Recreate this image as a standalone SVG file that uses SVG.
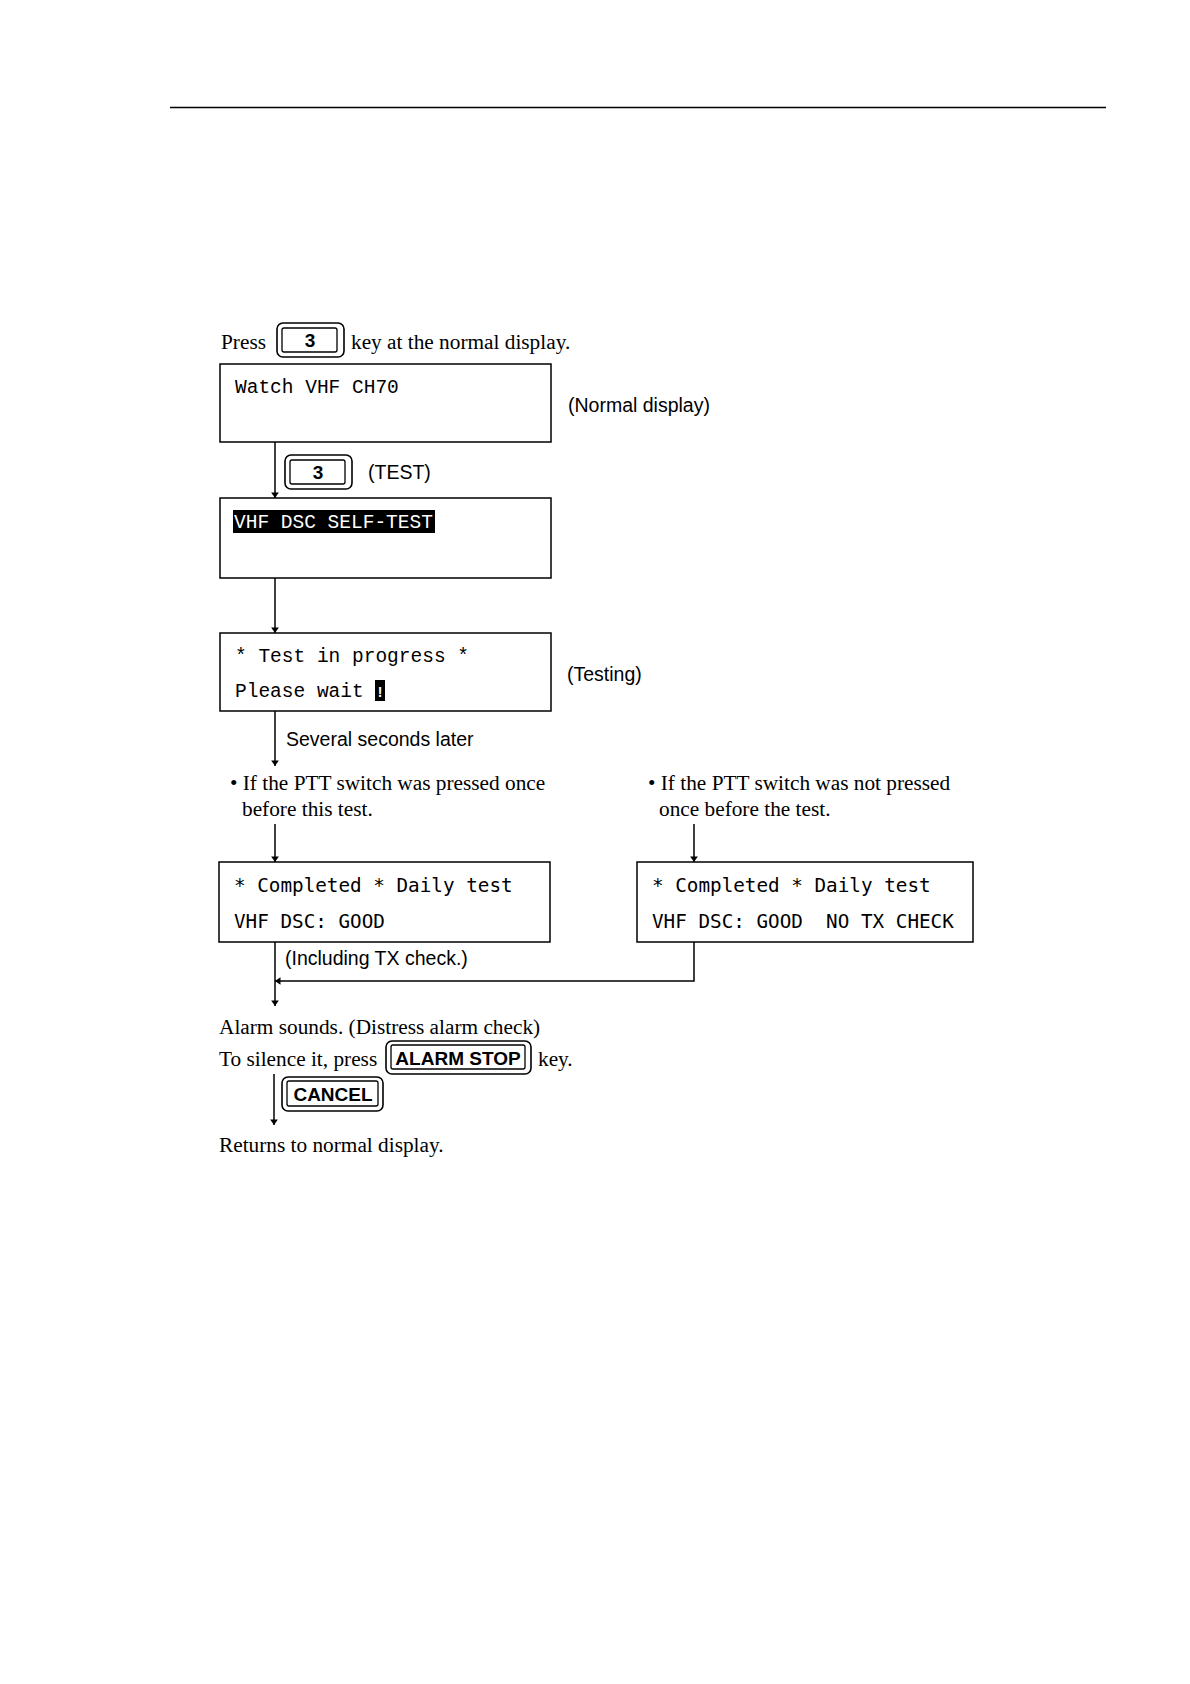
<svg xmlns="http://www.w3.org/2000/svg" width="1190" height="1684" viewBox="0 0 1190 1684">
<defs>
<marker id="ah" viewBox="0 0 10 20" refX="10" refY="10" markerWidth="6" markerHeight="11" orient="auto" markerUnits="userSpaceOnUse">
<path d="M0,3 L10,10 L0,17 Z" fill="#000"/>
</marker>
</defs>
<style>
.box{fill:#fff;stroke:#000;stroke-width:1.5}
.ln{fill:none;stroke:#000;stroke-width:1.5}
.mono{font-family:"Liberation Mono","Courier New",monospace;font-size:19.5px;fill:#000}
.mono2{font-family:"DejaVu Sans Mono","Liberation Mono",monospace;font-size:19.3px;fill:#000}
.serif{font-family:"Liberation Serif","Times New Roman",serif;font-size:21.3px;fill:#000}
.sans{font-family:"Liberation Sans",Arial,sans-serif;font-size:19.5px;fill:#000}
.keyo{fill:#fff;stroke:#000;stroke-width:1.6}
.keyi{fill:none;stroke:#000;stroke-width:1.3}
.keyt{font-family:"Liberation Sans",Arial,sans-serif;font-weight:bold;font-size:19px;fill:#000}
</style>
<rect width="1190" height="1684" fill="#fff"/>
<line x1="170" y1="107.5" x2="1106" y2="107.5" stroke="#000" stroke-width="1.5"/>

<g id="intro">
<text class="serif" x="221" y="349">Press</text>
<rect class="keyo" x="277" y="323" width="67" height="34" rx="6"/>
<rect class="keyi" x="282" y="328" width="55" height="24" rx="2"/>
<text class="keyt" x="310" y="347" text-anchor="middle">3</text>
<text class="serif" x="351" y="349">key at the normal display.</text>
</g>

<g id="node-normal">
<rect class="box" x="220" y="364" width="331" height="78"/>
<text class="mono" x="235" y="393">Watch VHF CH70</text>
<text class="sans" x="568" y="412">(Normal display)</text>
</g>

<g id="key-test">
<rect class="keyo" x="285" y="455" width="67" height="34" rx="6"/>
<rect class="keyi" x="290" y="460" width="55" height="24" rx="2"/>
<text class="keyt" x="318" y="479" text-anchor="middle">3</text>
<text class="sans" x="368" y="479">(TEST)</text>
</g>

<g id="node-selftest">
<rect class="box" x="220" y="498" width="331" height="80"/>
<rect x="233" y="510" width="202" height="23" fill="#000"/>
<text class="mono" x="234" y="528" style="fill:#fff">VHF DSC SELF-TEST</text>
</g>

<g id="node-testing">
<rect class="box" x="220" y="633" width="331" height="78"/>
<text class="mono" x="235" y="662">* Test in progress *</text>
<text class="mono" x="235" y="697">Please wait</text>
<rect x="375" y="680" width="10" height="21" fill="#000"/>
<text x="380" y="697" text-anchor="middle" style="font-family:'Liberation Sans',Arial,sans-serif;font-size:14px;font-weight:bold;fill:#fff">!</text>
<text class="sans" x="567" y="681">(Testing)</text>
</g>

<g id="label-several">
<text class="sans" x="286" y="746">Several seconds later</text>
</g>

<g id="cond-pressed">
<text class="serif" x="230" y="790">• If the PTT switch was pressed once</text>
<text class="serif" x="242" y="816">before this test.</text>
</g>

<g id="cond-notpressed">
<text class="serif" x="648" y="790">• If the PTT switch was not pressed</text>
<text class="serif" x="659" y="816">once before the test.</text>
</g>

<g id="node-good">
<rect class="box" x="219" y="862" width="331" height="80"/>
<text class="mono2" x="234" y="892">* Completed * Daily test</text>
<text class="mono2" x="234" y="928">VHF DSC: GOOD</text>
<text class="sans" x="285" y="965">(Including TX check.)</text>
</g>

<g id="node-notx">
<rect class="box" x="637" y="862" width="336" height="80"/>
<text class="mono2" x="652" y="892">* Completed * Daily test</text>
<text class="mono2" x="652" y="928" xml:space="preserve">VHF DSC: GOOD  NO TX CHECK</text>
</g>

<g id="alarm">
<text class="serif" x="219" y="1034">Alarm sounds. (Distress alarm check)</text>
<text class="serif" x="219" y="1066">To silence it, press</text>
<rect class="keyo" x="386" y="1041" width="145" height="33" rx="6"/>
<rect class="keyi" x="391" y="1045" width="134" height="24" rx="2"/>
<text class="keyt" x="458" y="1065" text-anchor="middle">ALARM STOP</text>
<text class="serif" x="538" y="1066">key.</text>
</g>

<g id="key-cancel">
<rect class="keyo" x="282" y="1077" width="101" height="34" rx="6"/>
<rect class="keyi" x="287" y="1081" width="91" height="25" rx="2"/>
<text class="keyt" x="333" y="1101" text-anchor="middle">CANCEL</text>
</g>

<g id="node-return">
<text class="serif" x="219" y="1152">Returns to normal display.</text>
</g>

<g id="connectors">
<line class="ln" x1="275" y1="442" x2="275" y2="498" marker-end="url(#ah)"/>
<line class="ln" x1="275" y1="578" x2="275" y2="633" marker-end="url(#ah)"/>
<line class="ln" x1="275" y1="711" x2="275" y2="766" marker-end="url(#ah)"/>
<line class="ln" x1="275" y1="824" x2="275" y2="862" marker-end="url(#ah)"/>
<line class="ln" x1="694" y1="824" x2="694" y2="862" marker-end="url(#ah)"/>
<polyline class="ln" points="694,942 694,981 275,981" marker-end="url(#ah)"/>
<line class="ln" x1="275" y1="942" x2="275" y2="1006" marker-end="url(#ah)"/>
<line class="ln" x1="274" y1="1074" x2="274" y2="1125" marker-end="url(#ah)"/>
</g>
</svg>
